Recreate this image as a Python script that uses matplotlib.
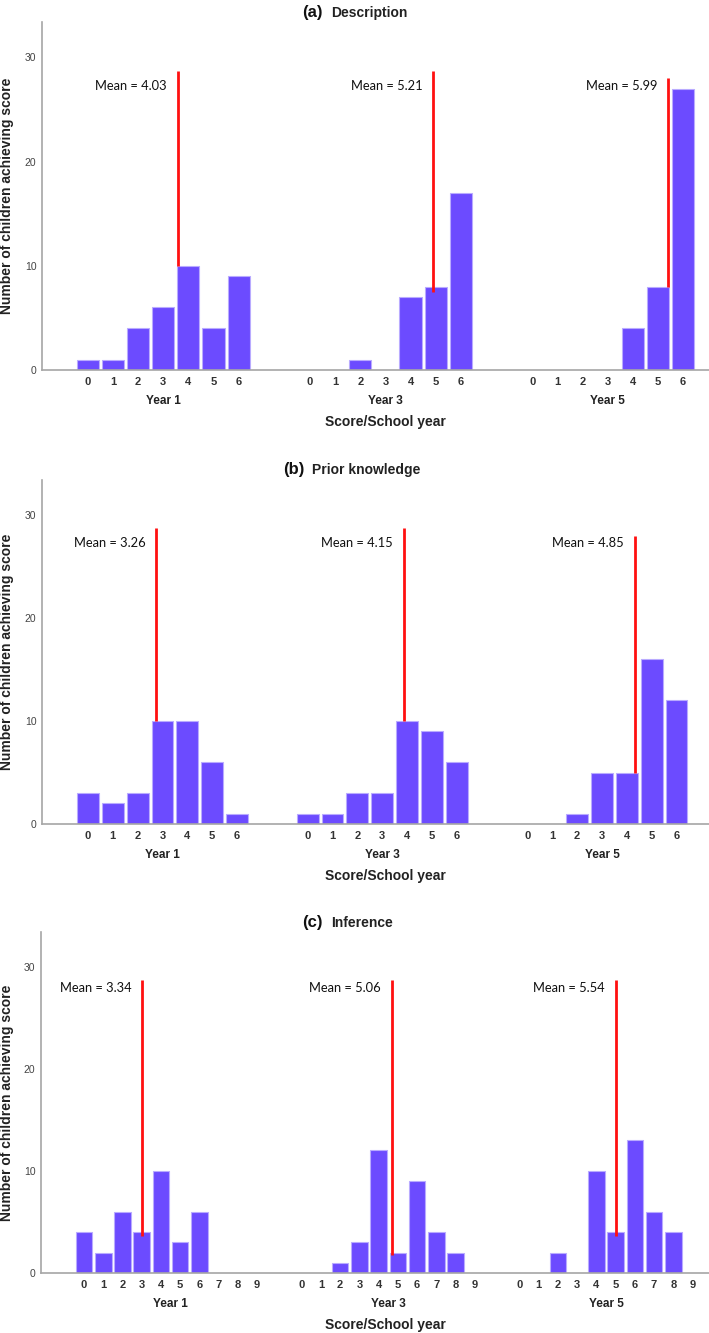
import matplotlib
matplotlib.use("Agg")
import matplotlib.pyplot as plt


plt.rcParams["font.family"] = ["Liberation Sans", "DejaVu Sans"]

W, H = 709, 1333

YEARS = ["Year 1", "Year 3", "Year 5"]

# (a) Description, scores 0-6
DESC_SCORES = [0, 1, 2, 3, 4, 5, 6]
DESC_COUNTS = [
    [1, 1, 4, 6, 10, 4, 9],
    [0, 0, 1, 0, 7, 8, 17],
    [0, 0, 0, 0, 4, 8, 27],
]
DESC_MEANS = [4.03, 5.21, 5.99]
# where the mean marker sits on the score axis, and its vertical extent
DESC_LINE_X = [3.57, 4.91, 5.41]
DESC_LINE_TOP = [28.7, 28.7, 28.0]
DESC_LINE_BOTTOM = [10, 7.5, 8]

# (b) Prior knowledge, scores 0-6
PRIOR_SCORES = [0, 1, 2, 3, 4, 5, 6]
PRIOR_COUNTS = [
    [3, 2, 3, 10, 10, 6, 1],
    [1, 1, 3, 3, 10, 9, 6],
    [0, 0, 1, 5, 5, 16, 12],
]
PRIOR_MEANS = [3.26, 4.15, 4.85]
PRIOR_LINE_X = [2.76, 3.86, 4.31]
PRIOR_LINE_TOP = [28.7, 28.7, 28.0]
PRIOR_LINE_BOTTOM = [10, 10, 5]

# (c) Inference, scores 0-9
INF_SCORES = [0, 1, 2, 3, 4, 5, 6, 7, 8, 9]
INF_COUNTS = [
    [4, 2, 6, 4, 10, 3, 6, 0, 0, 0],
    [0, 0, 1, 3, 12, 2, 9, 4, 2, 0],
    [0, 0, 2, 0, 10, 4, 13, 6, 4, 0],
]
INF_MEANS = [3.34, 5.06, 5.54]
INF_LINE_X = [3.04, 4.70, 5.01]
INF_LINE_TOP = [28.7, 28.7, 28.7]
INF_LINE_BOTTOM = [3.6, 1.8, 3.6]

Y_TICKS = [0, 10, 20, 30]

BAR_COLOR = "#6C4BFF"
BAR_EDGE = "#B9ABFF"
LINE_COLOR = "#FF1010"
AXIS_COLOR = "#A6A6A6"
TEXT_COLOR = "#222222"

PX = 72 / 100  # points per pixel at dpi 100


def px_box(left, top, right, bottom):
    return [left / W, 1 - bottom / H, (right - left) / W, (bottom - top) / H]


def draw_panel(fig, box, letter, name, title_y, split_x, scores, counts,
               means, line_x, line_top, line_bottom, step, xlim, bar_w,
               mean_text_y):
    ax = fig.add_axes(px_box(*box))

    tick_pos = []
    tick_lab = []
    for g, year in enumerate(YEARS):
        xs = [s + g * step for s in scores]
        ax.bar(xs, counts[g], width=bar_w, color=BAR_COLOR,
               edgecolor=BAR_EDGE, linewidth=0.8, zorder=2)
        tick_pos += xs
        tick_lab += [str(s) for s in scores]

        lx = line_x[g] + g * step
        ax.vlines(lx, line_bottom[g], line_top[g], color=LINE_COLOR,
                  linewidth=2.0, zorder=3)
        ax.annotate(f"Mean = {means[g]:.2f}", xy=(lx, mean_text_y),
                    xytext=(-11 * PX, 0), textcoords="offset points",
                    ha="right", va="center", fontsize=9.3,
                    family=["Lato", "DejaVu Sans"], color="#111111")

        center = (scores[0] + scores[-1]) / 2 + g * step
        ax.annotate(year, xy=(center, 0), xycoords=("data", "axes fraction"),
                    xytext=(0, -31 * PX), textcoords="offset points",
                    ha="center", va="center", fontsize=8.5,
                    fontweight="bold", color=TEXT_COLOR)

    ax.set_xlim(*xlim)
    ax.set_ylim(0, 33.4)
    ax.set_xticks(tick_pos)
    ax.set_xticklabels(tick_lab, fontsize=8, fontweight="bold",
                       color="#333333")
    ax.set_yticks(Y_TICKS)
    ax.set_yticklabels([str(t) for t in Y_TICKS], fontsize=7.5,
                       color="#444444")
    ax.tick_params(axis="x", length=0, pad=5)
    ax.tick_params(axis="y", length=0, pad=4)

    for side in ["top", "right"]:
        ax.spines[side].set_visible(False)
    for side in ["left", "bottom"]:
        ax.spines[side].set_color(AXIS_COLOR)
        ax.spines[side].set_linewidth(1.2)

    # axis titles
    fig.text(385 / W, 1 - (box[3] + 52) / H, "Score/School year",
             ha="center", va="center", fontsize=10, fontweight="bold",
             color=TEXT_COLOR)
    fig.text(7.5 / W, 1 - ((box[1] + box[3]) / 2) / H,
             "Number of children achieving score", rotation=90,
             ha="center", va="center", fontsize=10, fontweight="bold",
             color=TEXT_COLOR)

    # panel title: large letter + smaller name
    fig.text(split_x / W, 1 - title_y / H, f"({letter})", ha="right",
             va="center", fontsize=12, fontweight="bold", color="#111111")
    fig.text((split_x + 8) / W, 1 - title_y / H, name, ha="left",
             va="center", fontsize=10, fontweight="bold", color=TEXT_COLOR)
    return ax


def main():
    fig = plt.figure(figsize=(W / 100, H / 100), dpi=100)

    draw_panel(fig, (42, 22, 709, 370), "a", "Description", 13, 323,
               DESC_SCORES, DESC_COUNTS, DESC_MEANS, DESC_LINE_X,
               DESC_LINE_TOP, DESC_LINE_BOTTOM, 8.85, (-1.83, 24.74), 0.88,
               27.3)

    draw_panel(fig, (42, 480, 709, 824), "b", "Prior knowledge", 470, 304,
               PRIOR_SCORES, PRIOR_COUNTS, PRIOR_MEANS, PRIOR_LINE_X,
               PRIOR_LINE_TOP, PRIOR_LINE_BOTTOM, 8.85, (-1.85, 25.01), 0.88,
               27.3)

    draw_panel(fig, (41, 932, 709, 1273), "c", "Inference", 923, 323,
               INF_SCORES, INF_COUNTS, INF_MEANS, INF_LINE_X,
               INF_LINE_TOP, INF_LINE_BOTTOM, 11.33, (-2.24, 32.52), 0.86,
               27.9)

    fig.savefig("out.png", dpi=100, facecolor="white")
    plt.close(fig)


if __name__ == "__main__":
    main()
